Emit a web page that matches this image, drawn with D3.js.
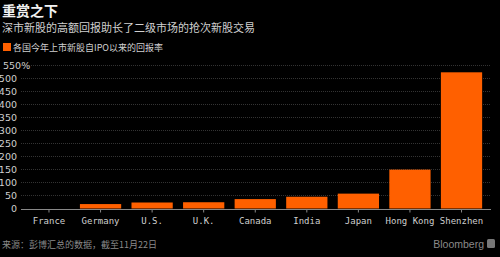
<!DOCTYPE html>
<html><head><meta charset="utf-8">
<script src="https://cdn.jsdelivr.net/npm/d3@7"></script>
<style>
html,body{margin:0;padding:0;background:#000;}
svg{display:block;}
</style></head>
<body>
<script>
const categories = ["France","Germany","U.S.","U.K.","Canada","India","Japan","Hong Kong","Shenzhen"];
const values = [0,17,23,24,36,45,57,149,522];
const yTicks = [0,50,100,150,200,250,300,350,400,450,500,550];
const title = "重赏之下";
const subtitle = "深市新股的高额回报助长了二级市场的抢次新股交易";
const legendLabel = "各国今年上市新股自IPO以来的回报率";
const source = "来源：彭博汇总的数据，截至11月22日";

const W = 500, H = 257;
const svg = d3.select("body").append("svg").attr("width", W).attr("height", H)
  .style("background", "#000");
const cjk = "'Noto Sans CJK SC', sans-serif";
const mono = "'DejaVu Sans Mono', monospace";

svg.append("text").attr("x", 2).attr("y", 16).text(title)
  .attr("fill", "#f2f2f2").attr("font-family", cjk).attr("font-size", 14).attr("font-weight", "bold");
svg.append("text").attr("x", 2).attr("y", 32).text(subtitle)
  .attr("fill", "#d0d0d0").attr("font-family", cjk).attr("font-size", 11);
svg.append("rect").attr("x", 3).attr("y", 43).attr("width", 8).attr("height", 8).attr("fill", "#ff6000");
svg.append("text").attr("x", 13).attr("y", 51).text(legendLabel)
  .attr("fill", "#d0d0d0").attr("font-family", cjk).attr("font-size", 9);

const x = d3.scaleBand().domain(categories).range([23.2, 487.3]).paddingInner(0.2).paddingOuter(0.1);
const y = d3.scaleLinear().domain([0, 550]).range([208.5, 65]);

// gridlines
svg.append("g").selectAll("line").data(yTicks.filter(d => d > 0)).join("line")
  .attr("x1", 21).attr("x2", 491)
  .attr("y1", d => Math.round(y(d)) + 0.5).attr("y2", d => Math.round(y(d)) + 0.5)
  .attr("stroke", "#333").attr("stroke-width", 1).attr("stroke-dasharray", "1,1");

// y labels
svg.append("g").selectAll("text").data(yTicks).join("text")
  .attr("x", d => d === 550 ? 3 : 17).attr("y", d => y(d) + 3.5)
  .attr("text-anchor", d => d === 550 ? "start" : "end")
  .text(d => d === 550 ? "550%" : d)
  .attr("fill", "#cfcfcf").attr("font-family", "'DejaVu Sans', sans-serif").attr("font-size", 9.5);

// bars
svg.append("g").selectAll("rect").data(values).join("rect")
  .attr("x", (d, i) => x(categories[i]))
  .attr("width", x.bandwidth())
  .attr("y", d => y(d))
  .attr("height", d => y(0) - y(d))
  .attr("fill", "#ff6000");

// x axis
const xAxis = svg.append("g").attr("transform", `translate(0,${Math.round(y(0)) + 0.5})`)
  .call(d3.axisBottom(x).tickSize(3).tickPadding(5).tickSizeOuter(0));
xAxis.select(".domain").attr("stroke", "#888").attr("d", "M21,0H491");
xAxis.selectAll(".tick line").attr("stroke", "#888");
xAxis.selectAll(".tick text").attr("fill", "#cfcfcf").attr("font-family", mono).attr("font-size", 9);

svg.append("text").attr("x", 2).attr("y", 248).text(source)
  .attr("fill", "#8a8a8a").attr("font-family", cjk).attr("font-size", 9);
svg.append("text").attr("x", 484).attr("y", 248).attr("text-anchor", "end").text("Bloomberg")
  .attr("fill", "#8a8a8a").attr("font-family", "'Liberation Sans', sans-serif").attr("font-size", 10.5);
svg.append("rect").attr("x", 487).attr("y", 239).attr("width", 8).attr("height", 9).attr("rx", 1.5).attr("fill", "#777");
</script>
</body></html>
